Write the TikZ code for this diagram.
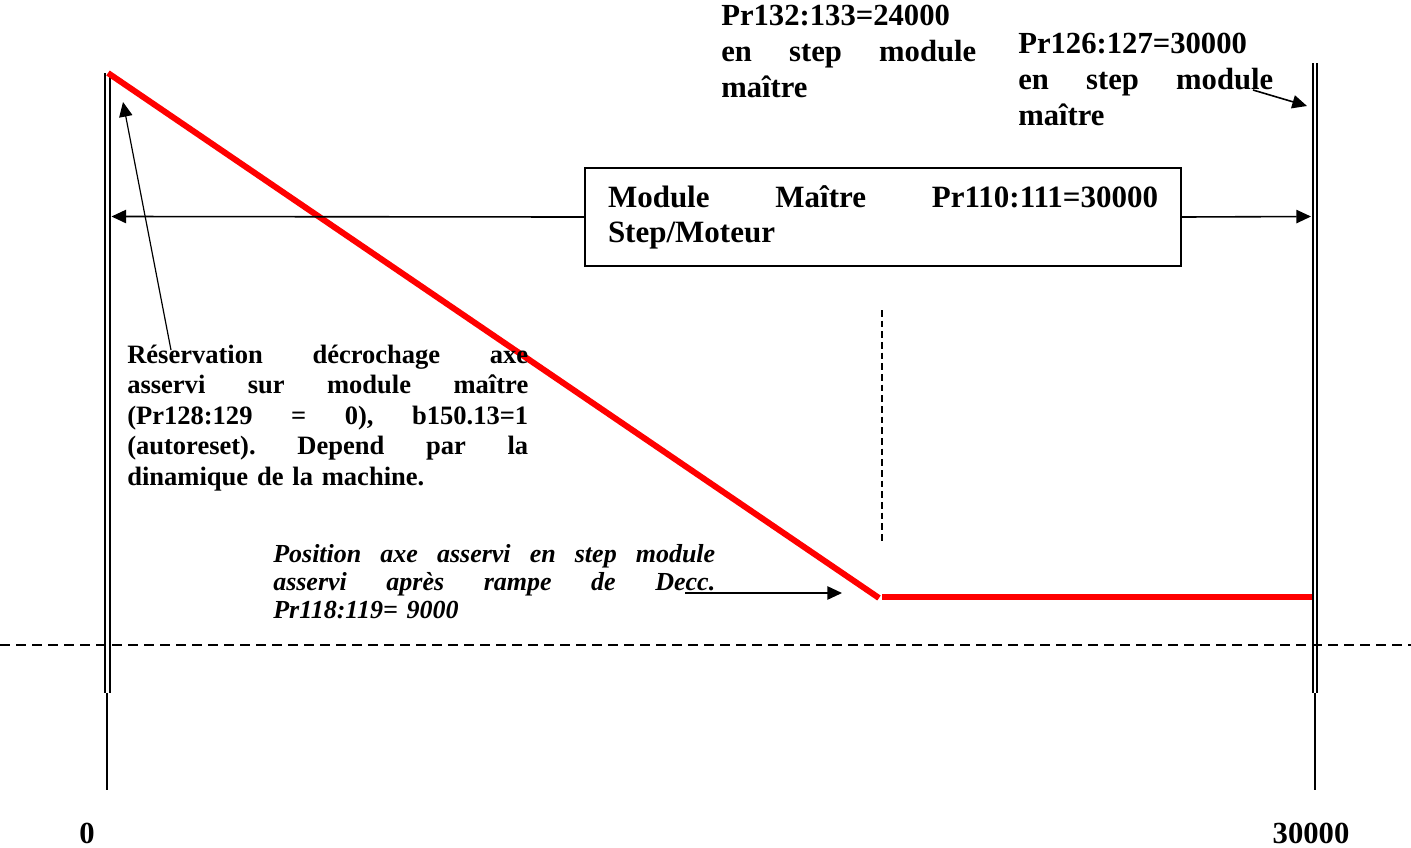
\documentclass[tikz,border=0pt]{standalone}
\usepackage{fontspec}
\setmainfont{Liberation Serif}
\usetikzlibrary{arrows.meta}
\newcommand{\jl}[2]{\leavevmode\hbox to #1{#2}}
\begin{document}
\begin{tikzpicture}[x=0.75pt,y=-0.75pt,
  toptxt/.style={inner sep=0pt, anchor=base west, text width=191.25pt, align=left,
    font=\fontsize{23pt}{27pt}\selectfont\bfseries},
  lefttxt/.style={inner sep=0pt, anchor=base west, text width=300.75pt, align=left,
    font=\fontsize{19.9pt}{22.9pt}\selectfont\bfseries},
  ittxt/.style={inner sep=0pt, anchor=base west, text width=331.5pt, align=left,
    font=\fontsize{19.5pt}{21pt}\selectfont\bfseries\itshape},
  boxtxt/.style={draw, line width=1.5pt, anchor=north west, inner xsep=17.25pt, inner ysep=0pt,
    text width=412.5pt, minimum height=73.5pt, align=left,
    font=\fontsize{23.25pt}{26.25pt}\selectfont\bfseries},
  axlabel/.style={inner sep=0pt, anchor=base, font=\fontsize{23pt}{27pt}\selectfont\bfseries},
  arr/.style={line width=1.2pt, -{Triangle[length=11pt,width=10pt]}},
  thinarr/.style={line width=0.9pt, -{Triangle[length=11pt,width=10pt]}},
  vline/.style={line width=1.5pt, line cap=butt},
  redline/.style={line width=4.5pt, draw={rgb,255:red,255;green,0;blue,0}, line cap=butt},
  hdash/.style={line width=1.1pt, dash pattern=on 7.5pt off 4.5pt},
  vdash/.style={line width=0.9pt, dash pattern=on 5pt off 3pt}
]
\useasboundingbox (0,0) rectangle (1411,847);

% vertical axes (double lines + single stems)
\draw[vline] (104.7,73) -- (104.7,693);
\draw[vline] (109.8,73) -- (109.8,693);
\draw[line width=1.3pt] (107.3,693) -- (107.3,790);
\draw[vline] (1312.5,63) -- (1312.5,693);
\draw[vline] (1317,63) -- (1317,693);
\draw[line width=1.3pt] (1314.8,693) -- (1314.8,790);

% dashed reference lines
\draw[hdash] (0,645) -- (1411,645);
\draw[vdash] (882,310) -- (882,543);

% red profile
\coordinate (r0) at (108,73);
\coordinate (r1) at (879,598);
\coordinate (r2) at (882,597);
\coordinate (r3) at (1312,597);
\draw[redline] (r0) -- (r1);
\draw[redline] (r2) -- (r3);

% texts
\node[toptxt] (t1) at (721,25) {Pr132:133=24000\\ \jl{191.25pt}{en\hfill step\hfill module}\\ maître};
\node[toptxt] (t2) at (1018,53) {Pr126:127=30000\\ \jl{191.25pt}{en\hfill step\hfill module}\\ maître};
\node[boxtxt] (box) at (584,167) {\jl{412.5pt}{Module\hfill Maître\hfill Pr110:111=30000}\\ Step/Moteur};
\node[lefttxt] (res) at (127,363) {\jl{300.75pt}{Réservation\hfill décrochage\hfill axe}\\ \jl{300.75pt}{asservi\hfill sur\hfill module\hfill maître}\\ \jl{300.75pt}{(Pr128:129\hfill =\hfill 0),\hfill b150.13=1}\\ \jl{300.75pt}{(autoreset).\hfill Depend\hfill par\hfill la}\\ dinamique de la machine.};
\node[ittxt] (pos) at (273,562) {\jl{331.5pt}{Position\hfill axe\hfill asservi\hfill en\hfill step\hfill module}\\ \jl{331.5pt}{asservi\hfill après\hfill rampe\hfill de\hfill Decc.}\\ Pr118:119= 9000};
\node[axlabel] (zero) at (87,843) {0};
\node[axlabel] (full) at (1311,843) {30000};

% arrows
\coordinate (lw) at (111.5,216.5);
\coordinate (rw) at (1311,216.5);
\draw[arr] (box.west) -- (lw);
\draw[arr] (box.east) -- (rw);
\coordinate (rtail) at (171,350);
\coordinate (rtip) at (123,102);
\draw[thinarr] (rtail) -- (rtip);
\coordinate (mtail) at (1253,90);
\coordinate (mtip) at (1307,106);
\draw[arr] (mtail) -- (mtip);
\coordinate (dtail) at (685,593);
\coordinate (dtip) at (842,593);
\draw[arr] (dtail) -- (dtip);
\end{tikzpicture}
\end{document}
